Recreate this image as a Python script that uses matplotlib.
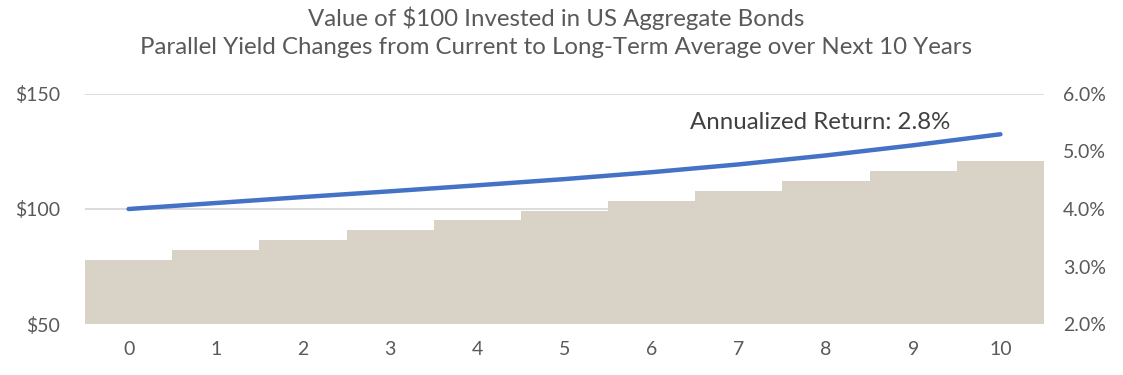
import matplotlib
matplotlib.use("Agg")
import matplotlib.pyplot as plt
from matplotlib.ticker import FuncFormatter

years = list(range(0, 11))
portfolio_value = [100.0, 102.6, 105.2, 107.7, 110.3, 113.0, 116.0, 119.4, 123.3, 127.7, 132.5]
yield_pct = [3.11, 3.29, 3.46, 3.63, 3.81, 3.97, 4.14, 4.31, 4.49, 4.66, 4.84]
title_lines = ["Value of $100 Invested in US Aggregate Bonds",
               "Parallel Yield Changes from Current to Long-Term Average over Next 10 Years"]
annotation = "Annualized Return: 2.8%"

plt.rcParams['font.family'] = ['Lato', 'DejaVu Sans']
text_color = '#595959'

fig = plt.figure(figsize=(11.23, 3.75), dpi=100)
ax = fig.add_axes([85/1123, 1-324/375, (1044-85)/1123, (324-94)/375])
ax2 = ax.twinx()

# bars on right axis (behind)
ax2.bar(years, yield_pct, width=1.0, bottom=0, color='#D9D3C7', zorder=2, linewidth=0)
ax2.set_ylim(2.0, 6.0)
ax2.set_yticks([2.0, 3.0, 4.0, 5.0, 6.0])
ax2.yaxis.set_major_formatter(FuncFormatter(lambda v, p: f"{v:.1f}%"))
ax2.set_axisbelow(True)
for gy in [2.0, 4.0, 6.0]:
    ax2.axhline(gy, color='#D9D9D9', linewidth=1.3, zorder=0)

# line on left axis (on top)
ax.set_zorder(ax2.get_zorder() + 1)
ax.patch.set_visible(False)
ax.plot(years, portfolio_value, color='#4472C4', linewidth=3.2, solid_capstyle='round',
        solid_joinstyle='round', zorder=3)
ax.set_ylim(50, 150)
ax.set_yticks([50, 100, 150])
ax.yaxis.set_major_formatter(FuncFormatter(lambda v, p: f"${v:.0f}"))
ax.set_xlim(-0.5, 10.5)
ax.set_xticks(years)

ax.text(9.43, 137.4, annotation, ha='right', va='center', fontsize=17.3, color='#404040')

for a in (ax, ax2):
    for s in a.spines.values():
        s.set_visible(False)
    a.tick_params(length=0, labelsize=14, labelcolor=text_color)
ax.tick_params(axis='y', pad=18)
ax2.tick_params(axis='y', pad=13.7)
ax.tick_params(axis='x', pad=12)

fig.text(0.495, 1-18/375, title_lines[0], ha='center', va='center', fontsize=17.3, color=text_color)
fig.text(0.495, 1-48/375, title_lines[1], ha='center', va='center', fontsize=17.3, color=text_color)

fig.savefig("out.png", dpi=100)
